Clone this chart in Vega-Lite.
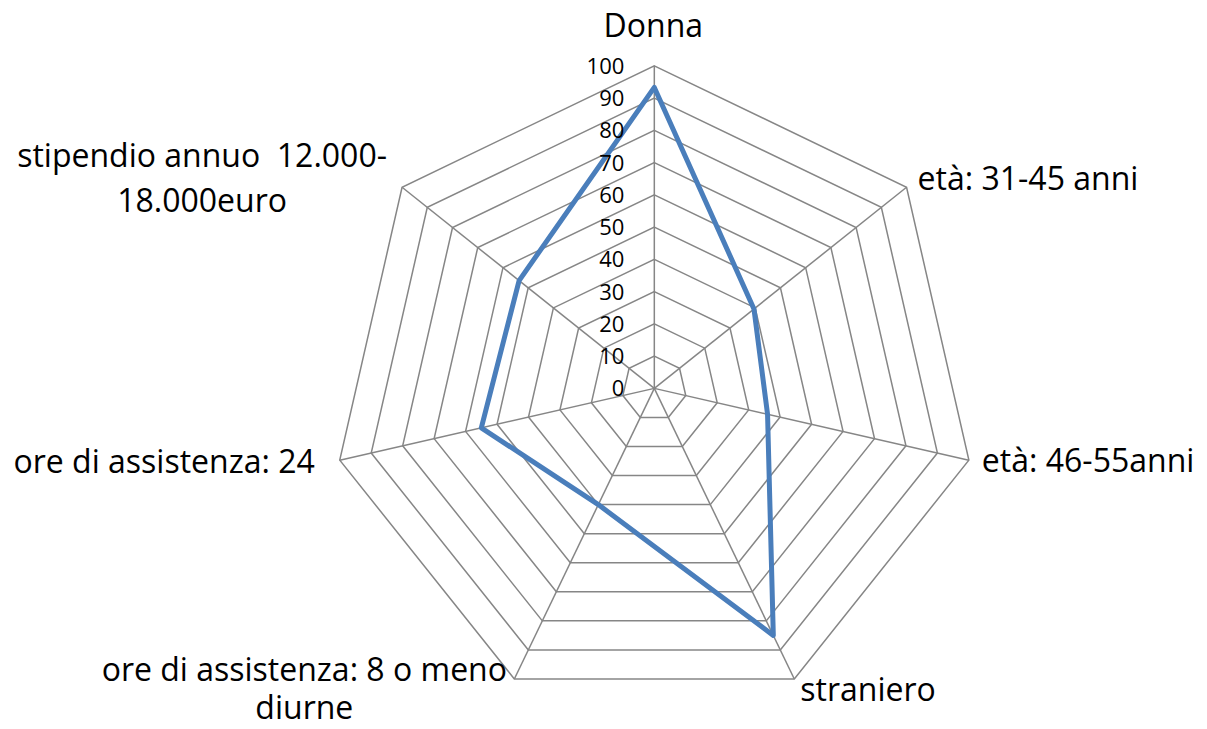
{
  "$schema": "https://vega.github.io/schema/vega-lite/v6.json",
  "width": 1207,
  "height": 729,
  "padding": 0,
  "autosize": {"type": "fit", "contains": "padding"},
  "background": "white",
  "config": {"view": {"stroke": null}, "text": {"font": "Open Sans", "fill": "black"}},
  "datasets": {
    "axes": [
      {"k": 0, "name": "Donna", "label": ["Donna"], "v": 93.3},
      {"k": 1, "name": "età: 31-45 anni", "label": ["età: 31-45 anni"], "v": 39.5},
      {"k": 2, "name": "età: 46-55anni", "label": ["età: 46-55anni"], "v": 36},
      {"k": 3, "name": "straniero", "label": ["straniero"], "v": 85},
      {"k": 4, "name": "ore di assistenza: 8 o meno diurne", "label": ["ore di assistenza: 8 o meno", "diurne"], "v": 40},
      {"k": 5, "name": "ore di assistenza: 24", "label": ["ore di assistenza: 24"], "v": 55},
      {"k": 6, "name": "stipendio annuo  12.000-18.000euro", "label": ["stipendio annuo \u00a012.000-", "18.000euro"], "v": 53.6}
    ],
    "grid": [
      {"k": 0, "rs": [10, 20, 30, 40, 50, 60, 70, 80, 90, 100]},
      {"k": 1, "rs": [10, 20, 30, 40, 50, 60, 70, 80, 90, 100]},
      {"k": 2, "rs": [10, 20, 30, 40, 50, 60, 70, 80, 90, 100]},
      {"k": 3, "rs": [10, 20, 30, 40, 50, 60, 70, 80, 90, 100]},
      {"k": 4, "rs": [10, 20, 30, 40, 50, 60, 70, 80, 90, 100]},
      {"k": 5, "rs": [10, 20, 30, 40, 50, 60, 70, 80, 90, 100]},
      {"k": 6, "rs": [10, 20, 30, 40, 50, 60, 70, 80, 90, 100]}
    ],
    "ticks": [
      {"r": 0}, {"r": 10}, {"r": 20}, {"r": 30}, {"r": 40}, {"r": 50},
      {"r": 60}, {"r": 70}, {"r": 80}, {"r": 90}, {"r": 100}
    ]
  },
  "layer": [
    {
      "data": {"name": "grid"},
      "transform": [
        {"flatten": ["rs"], "as": ["r"]},
        {"calculate": "datum.r * sin(datum.k * 2 * PI / 7)", "as": "gx"},
        {"calculate": "datum.r * cos(datum.k * 2 * PI / 7)", "as": "gy"}
      ],
      "mark": {"type": "line", "interpolate": "linear-closed", "stroke": "#868686", "strokeWidth": 1.5},
      "encoding": {
        "x": {"field": "gx", "type": "quantitative", "scale": {"domain": [-202.8, 171.3], "nice": false, "zero": false}, "axis": null},
        "y": {"field": "gy", "type": "quantitative", "scale": {"domain": [-105.6, 120.4], "nice": false, "zero": false}, "axis": null},
        "detail": {"field": "r", "type": "quantitative"},
        "order": {"field": "k", "type": "quantitative"}
      }
    },
    {
      "data": {"name": "axes"},
      "transform": [
        {"calculate": "100 * sin(datum.k * 2 * PI / 7)", "as": "ax"},
        {"calculate": "100 * cos(datum.k * 2 * PI / 7)", "as": "ay"}
      ],
      "mark": {"type": "rule", "stroke": "#868686", "strokeWidth": 1.5},
      "encoding": {
        "x": {"field": "ax", "type": "quantitative"},
        "y": {"field": "ay", "type": "quantitative"},
        "x2": {"datum": 0},
        "y2": {"datum": 0}
      }
    },
    {
      "data": {"name": "axes"},
      "transform": [
        {"calculate": "datum.v * sin(datum.k * 2 * PI / 7)", "as": "vx"},
        {"calculate": "datum.v * cos(datum.k * 2 * PI / 7)", "as": "vy"}
      ],
      "mark": {"type": "line", "interpolate": "linear-closed", "stroke": "#4a7ebb", "strokeWidth": 5, "strokeJoin": "round"},
      "encoding": {
        "x": {"field": "vx", "type": "quantitative"},
        "y": {"field": "vy", "type": "quantitative"},
        "order": {"field": "k", "type": "quantitative"}
      }
    },
    {
      "data": {"name": "ticks"},
      "mark": {"type": "text", "align": "right", "baseline": "alphabetic", "dx": -30, "dy": 8, "fontSize": 22},
      "encoding": {
        "x": {"datum": 0},
        "y": {"field": "r", "type": "quantitative"},
        "text": {"field": "r", "type": "quantitative"}
      }
    },
    {
      "data": {"name": "axes"},
      "transform": [
        {"filter": "datum.k == 0"},
        {"calculate": "100 * sin(datum.k * 2 * PI / 7)", "as": "ax"},
        {"calculate": "100 * cos(datum.k * 2 * PI / 7)", "as": "ay"}
      ],
      "mark": {"type": "text", "align": "center", "baseline": "alphabetic", "dx": -1, "dy": -29, "fontSize": 32},
      "encoding": {"x": {"field": "ax", "type": "quantitative"}, "y": {"field": "ay", "type": "quantitative"}, "text": {"field": "label"}}
    },
    {
      "data": {"name": "axes"},
      "transform": [
        {"filter": "datum.k == 1"},
        {"calculate": "100 * sin(datum.k * 2 * PI / 7)", "as": "ax"},
        {"calculate": "100 * cos(datum.k * 2 * PI / 7)", "as": "ay"}
      ],
      "mark": {"type": "text", "align": "left", "baseline": "alphabetic", "dx": 11, "dy": 3, "fontSize": 32},
      "encoding": {"x": {"field": "ax", "type": "quantitative"}, "y": {"field": "ay", "type": "quantitative"}, "text": {"field": "label"}}
    },
    {
      "data": {"name": "axes"},
      "transform": [
        {"filter": "datum.k == 2"},
        {"calculate": "100 * sin(datum.k * 2 * PI / 7)", "as": "ax"},
        {"calculate": "100 * cos(datum.k * 2 * PI / 7)", "as": "ay"}
      ],
      "mark": {"type": "text", "align": "left", "baseline": "alphabetic", "dx": 13, "dy": 12, "fontSize": 32},
      "encoding": {"x": {"field": "ax", "type": "quantitative"}, "y": {"field": "ay", "type": "quantitative"}, "text": {"field": "label"}}
    },
    {
      "data": {"name": "axes"},
      "transform": [
        {"filter": "datum.k == 3"},
        {"calculate": "100 * sin(datum.k * 2 * PI / 7)", "as": "ax"},
        {"calculate": "100 * cos(datum.k * 2 * PI / 7)", "as": "ay"}
      ],
      "mark": {"type": "text", "align": "left", "baseline": "alphabetic", "dx": 6, "dy": 22, "fontSize": 32},
      "encoding": {"x": {"field": "ax", "type": "quantitative"}, "y": {"field": "ay", "type": "quantitative"}, "text": {"field": "label"}}
    },
    {
      "data": {"name": "axes"},
      "transform": [
        {"filter": "datum.k == 4"},
        {"calculate": "100 * sin(datum.k * 2 * PI / 7)", "as": "ax"},
        {"calculate": "100 * cos(datum.k * 2 * PI / 7)", "as": "ay"}
      ],
      "mark": {"type": "text", "align": "center", "baseline": "alphabetic", "dx": -210, "dy": 2, "fontSize": 32, "lineHeight": 38},
      "encoding": {"x": {"field": "ax", "type": "quantitative"}, "y": {"field": "ay", "type": "quantitative"}, "text": {"field": "label"}}
    },
    {
      "data": {"name": "axes"},
      "transform": [
        {"filter": "datum.k == 5"},
        {"calculate": "100 * sin(datum.k * 2 * PI / 7)", "as": "ax"},
        {"calculate": "100 * cos(datum.k * 2 * PI / 7)", "as": "ay"}
      ],
      "mark": {"type": "text", "align": "right", "baseline": "alphabetic", "dx": -25, "dy": 13, "fontSize": 32},
      "encoding": {"x": {"field": "ax", "type": "quantitative"}, "y": {"field": "ay", "type": "quantitative"}, "text": {"field": "label"}}
    },
    {
      "data": {"name": "axes"},
      "transform": [
        {"filter": "datum.k == 6"},
        {"calculate": "100 * sin(datum.k * 2 * PI / 7)", "as": "ax"},
        {"calculate": "100 * cos(datum.k * 2 * PI / 7)", "as": "ay"}
      ],
      "mark": {"type": "text", "align": "center", "baseline": "alphabetic", "dx": -200, "dy": -20, "fontSize": 32, "lineHeight": 45},
      "encoding": {"x": {"field": "ax", "type": "quantitative"}, "y": {"field": "ay", "type": "quantitative"}, "text": {"field": "label"}}
    }
  ]
}
